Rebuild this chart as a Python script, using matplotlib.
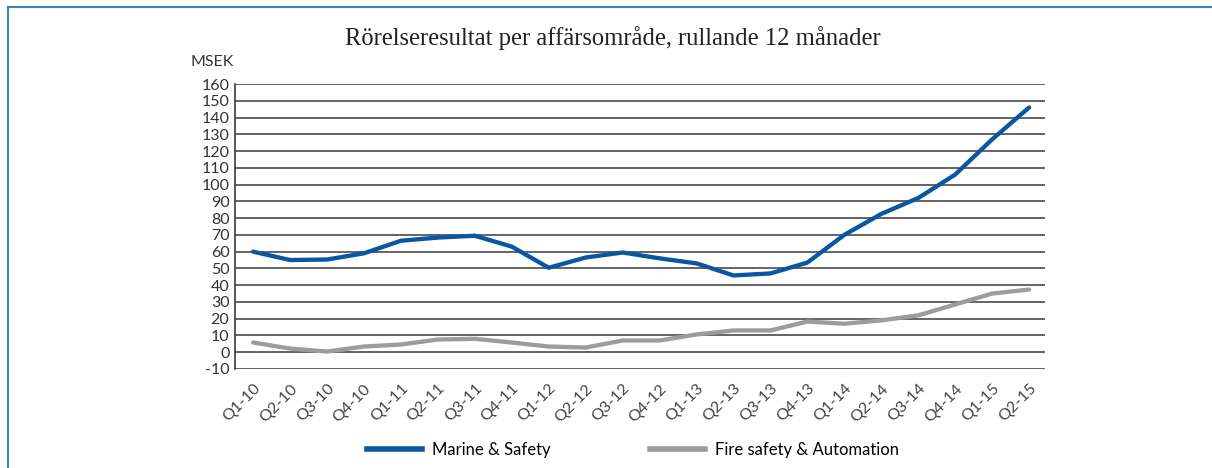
import numpy as np
import matplotlib.pyplot as plt
from matplotlib.lines import Line2D

# kvartal och rörelseresultat (MSEK), rullande 12 månader
quarters = ["Q1-10", "Q2-10", "Q3-10", "Q4-10", "Q1-11", "Q2-11", "Q3-11", "Q4-11",
            "Q1-12", "Q2-12", "Q3-12", "Q4-12", "Q1-13", "Q2-13", "Q3-13", "Q4-13",
            "Q1-14", "Q2-14", "Q3-14", "Q4-14", "Q1-15", "Q2-15"]
marine = [60, 55, 55.3, 59, 66.5, 68.4, 69.5, 63, 50.4, 56.5, 59.5, 56,
          53, 45.8, 47, 53.5, 70, 82.5, 92, 106, 127, 146]
fire = [5.8, 2.2, 0.4, 3.4, 4.6, 7.6, 8, 5.8, 3.4, 2.8, 7, 7,
        10.6, 13, 13, 18.3, 17, 19, 22, 28.5, 35, 37.4]
yticks = list(range(-10, 161, 10))

blue = "#0B56A0"
grey = "#9C9C9C"
sans = "Lato"

fig = plt.figure(figsize=(12.12, 4.68), dpi=100)
ax = fig.add_axes([235 / 1212, 1 - 369 / 468, (1045 - 235) / 1212, (369 - 84) / 468])

x = np.arange(len(quarters))
ax.plot(x, marine, color=blue, lw=3.1, solid_capstyle="round", zorder=3)
ax.plot(x, fire, color=grey, lw=3.1, solid_capstyle="round", zorder=3)

ax.set_ylim(-10, 160)
ax.set_xlim(-0.49, 21.43)
ax.set_yticks(yticks)
ax.set_yticklabels([str(v) for v in yticks], fontsize=11.5, family=sans, color="#333333")
for v in yticks:
    ax.axhline(v, color="#3a3a3a", lw=1.1, zorder=1)

ax.set_xticks(x)
ax.set_xticklabels(quarters, rotation=45, ha="right", rotation_mode="anchor",
                   fontsize=11.5, family=sans, color="#444444")
ax.tick_params(axis="both", length=0, pad=4)
ax.tick_params(axis="x", pad=9)

for s in ["top", "right", "bottom"]:
    ax.spines[s].set_visible(False)
ax.spines["left"].set_color("#3a3a3a")
ax.spines["left"].set_linewidth(1.2)

fig.text(613 / 1212, 1 - 38 / 468, "Rörelseresultat per affärsområde, rullande 12 månader",
         ha="center", va="center", fontsize=17.7, family="Liberation Serif", color="#222222")
fig.text(190 / 1212, 1 - 62 / 468, "MSEK", ha="left", va="center", fontsize=11.5,
         family=sans, color="#333333")

handles = [Line2D([], [], color=blue, lw=4), Line2D([], [], color=grey, lw=4)]
fig.legend(handles, ["Marine & Safety", "Fire safety & Automation"], loc="center",
           bbox_to_anchor=(633 / 1212, 1 - 450 / 468), ncol=2, frameon=False,
           handlelength=3.3, handletextpad=0.6, columnspacing=6,
           prop={"family": sans, "size": 12})

# blå ram
fig.add_artist(Line2D([8 / 1212, 1], [1 - 7 / 468, 1 - 7 / 468], transform=fig.transFigure,
                      color="#3F7FC0", lw=1.5))
fig.add_artist(Line2D([8 / 1212, 8 / 1212], [0, 1 - 7 / 468], transform=fig.transFigure,
                      color="#3F7FC0", lw=1.5))

fig.savefig("out.png", dpi=100)
